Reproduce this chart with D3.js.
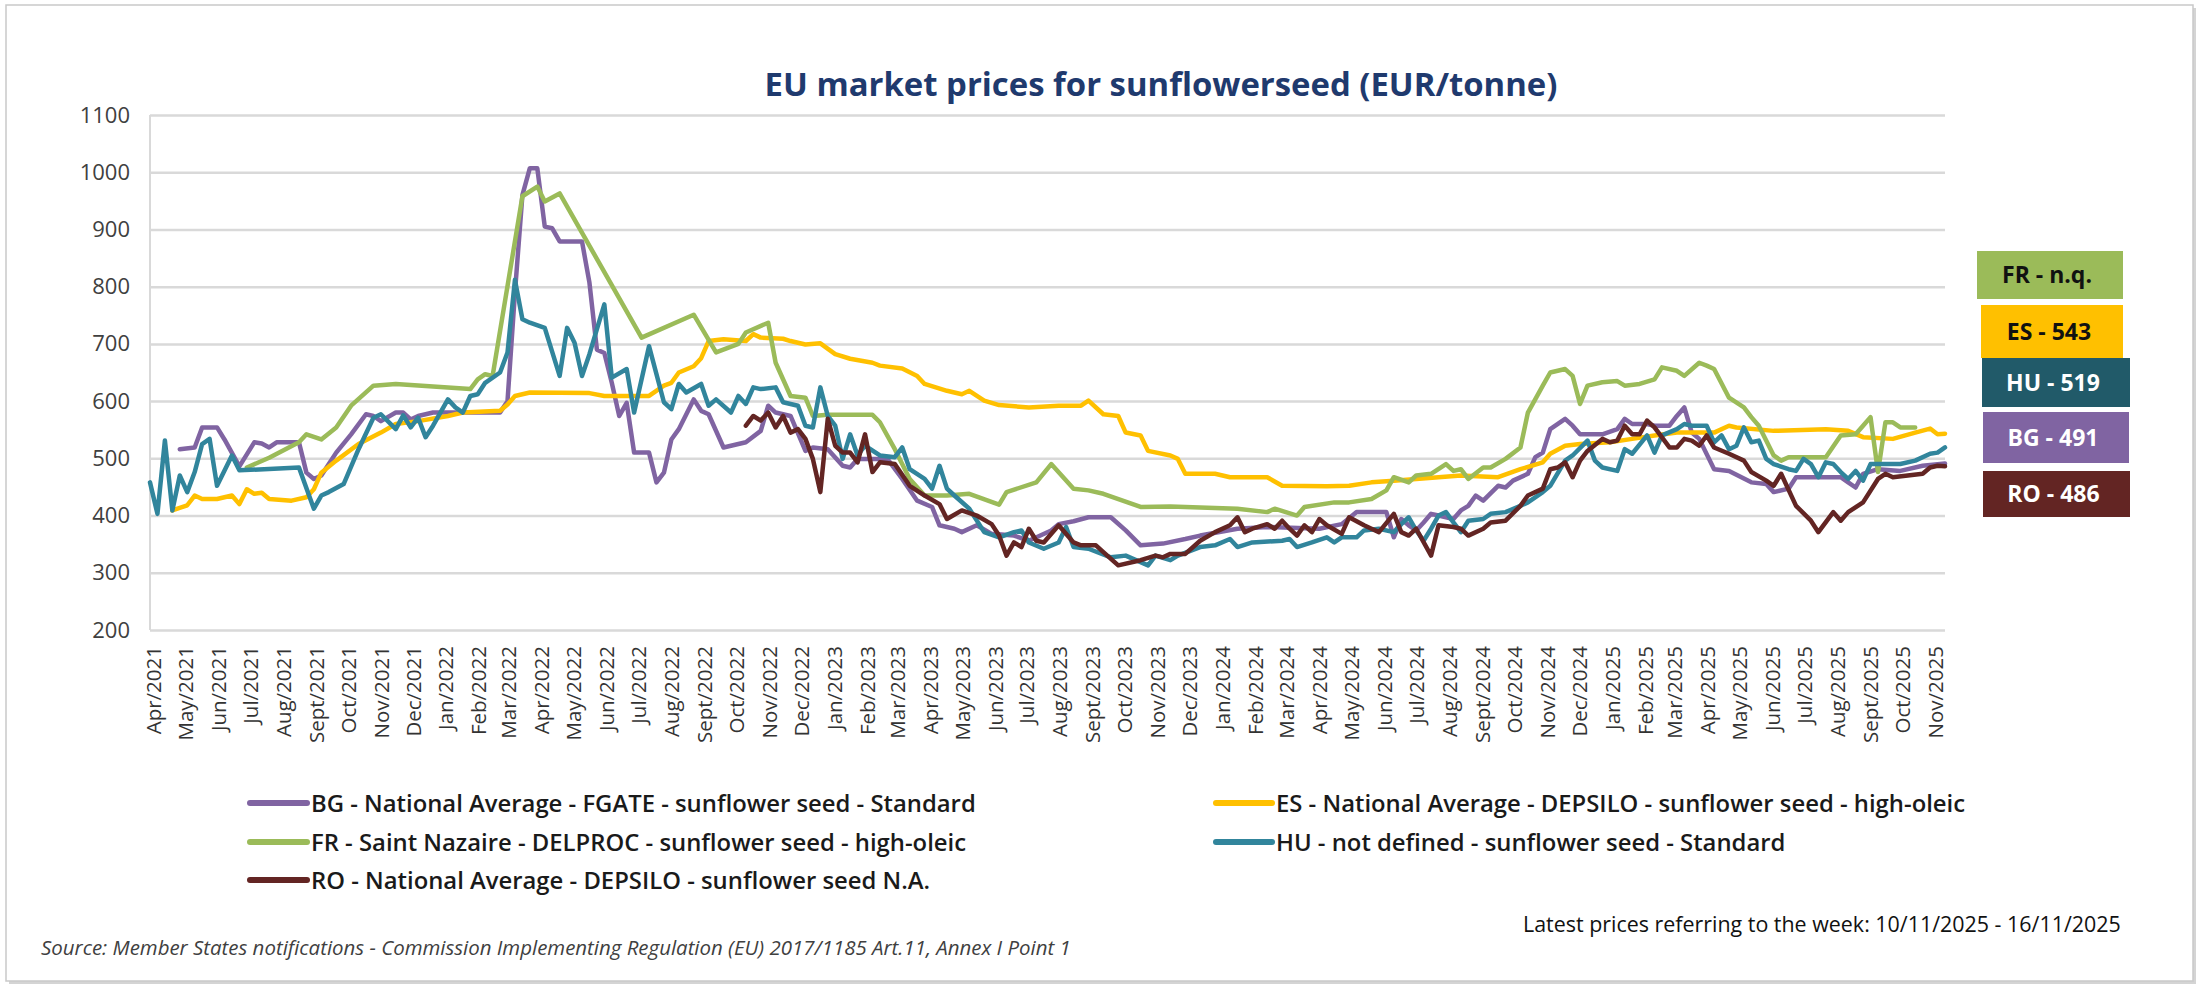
<!DOCTYPE html>
<html><head><meta charset="utf-8">
<script src="https://cdn.jsdelivr.net/npm/d3@7/dist/d3.min.js"></script>
<style>body{margin:0;background:#fff}svg{display:block}</style>
</head><body>
<svg id="chart" width="2201" height="986"></svg>
<script>
// ---------- data ----------
const titleText = "EU market prices for sunflowerseed (EUR/tonne)";
const startWeek = "2021-03-29";   // week 0 of the weekly series
const lastWeek = 241;              // week of 10/11/2025
const monthNames = ["Jan","Feb","Mar","Apr","May","Jun","Jul","Aug","Sept","Oct","Nov","Dec"];
const firstTickMonth = [2021, 3];  // Apr 2021
const tickCount = 56;              // Apr/2021 .. Nov/2025
const yTicks = [200,300,400,500,600,700,800,900,1000,1100];

const seriesKeys = ["BG","ES","FR","HU","RO"];
const seriesLabels = [
  "BG - National Average - FGATE - sunflower seed - Standard",
  "ES - National Average - DEPSILO - sunflower seed - high-oleic",
  "FR - Saint Nazaire - DELPROC - sunflower seed - high-oleic",
  "HU - not defined - sunflower seed - Standard",
  "RO - National Average - DEPSILO - sunflower seed N.A."
];
// [week index, EUR/tonne]
const BG = [[4,516],[6,519],[7,554],[9,554],[10,533],[12,486],[14,528],[15,526],[16,519],[17,528],[20,528],[21,475],[22,464],[23,470],[25,510],[27,542],[29,577],[30,574],[31,565],[33,580],[34,580],[35,568],[36,574],[38,580],[47,580],[48,600],[49,790],[50,960],[51,1007],[52,1007],[53,905],[54,902],[55,879],[58,879],[59,807],[60,690],[61,684],[62,632],[63,574],[64,597],[65,510],[67,510],[68,458],[69,475],[70,533],[71,551],[73,603],[74,583],[75,577],[77,519],[79,525],[80,528],[82,548],[83,592],[84,580],[86,574],[88,513],[89,519],[91,516],[93,487],[94,484],[95,499],[99,499],[101,464],[103,426],[105,415],[106,383],[108,377],[109,371],[111,383],[113,368],[116,365],[118,356],[121,374],[122,385],[124,390],[126,397],[129,397],[131,374],[133,348],[136,351],[139,359],[141,365],[146,377],[150,380],[157,377],[160,385],[162,406],[164,406],[166,406],[167,362],[168,394],[169,383],[170,374],[171,388],[172,403],[173,400],[175,394],[176,409],[177,417],[178,435],[179,426],[181,452],[182,449],[183,461],[185,473],[186,502],[187,510],[188,551],[190,569],[191,557],[192,542],[195,542],[197,551],[198,569],[199,560],[201,560],[202,557],[204,557],[205,574],[206,589],[207,545],[208,534],[210,481],[212,478],[215,458],[217,455],[218,441],[220,447],[221,467],[223,467],[227,467],[228,458],[229,449],[230,473],[232,481],[235,478],[238,487],[241,491]];
const ES = [[3,409],[5,418],[6,435],[7,429],[9,429],[11,435],[12,420],[13,446],[14,438],[15,440],[16,429],[19,426],[21,432],[22,446],[23,475],[25,496],[28,525],[31,545],[33,560],[36,565],[40,574],[42,580],[47,583],[48,594],[49,609],[51,615],[59,614],[61,609],[67,609],[69,627],[70,632],[71,650],[73,661],[74,675],[75,705],[77,708],[80,705],[81,717],[82,711],[85,709],[86,705],[88,699],[90,701],[92,682],[94,674],[97,667],[98,662],[101,657],[103,644],[104,630],[107,618],[109,612],[110,618],[112,601],[114,593],[118,589],[122,592],[125,592],[126,601],[128,577],[130,574],[131,545],[133,540],[134,513],[137,505],[138,499],[139,473],[143,473],[145,467],[150,467],[152,452],[158,451],[161,452],[164,458],[167,461],[170,464],[173,467],[176,470],[181,467],[184,481],[187,493],[188,508],[190,522],[192,525],[196,528],[199,534],[202,540],[205,545],[210,545],[212,557],[213,554],[218,548],[225,551],[228,548],[230,537],[234,534],[237,545],[239,552],[240,542],[241,543]];
const FR = [[13,484],[16,501],[20,528],[21,542],[23,533],[25,554],[27,592],[30,627],[33,630],[43,621],[44,638],[45,647],[46,644],[50,958],[52,975],[53,949],[55,963],[66,711],[73,751],[76,685],[79,700],[80,720],[83,737],[84,667],[86,609],[88,606],[89,574],[91,576],[97,576],[98,563],[100,516],[102,464],[104,435],[107,435],[110,438],[114,419],[115,441],[119,458],[121,490],[124,447],[126,444],[128,438],[133,415],[137,416],[146,412],[150,406],[151,412],[154,400],[155,415],[159,423],[161,423],[164,429],[166,444],[167,467],[169,458],[170,470],[172,473],[174,490],[175,478],[176,481],[177,464],[179,484],[180,484],[182,499],[184,519],[185,580],[187,627],[188,650],[190,656],[191,644],[192,595],[193,627],[195,633],[197,635],[198,627],[200,630],[202,638],[203,659],[205,653],[206,644],[208,667],[209,662],[210,656],[212,606],[214,589],[215,572],[216,557],[218,505],[219,496],[220,502],[225,502],[227,540],[229,542],[230,557],[231,572],[232,476],[233,563],[234,563],[235,554],[237,554]];
const HU = [[0,458],[1,403],[2,531],[3,409],[4,470],[5,441],[6,476],[7,525],[8,534],[9,452],[11,505],[12,479],[20,484],[22,412],[23,435],[24,441],[26,455],[28,516],[30,571],[31,577],[33,551],[34,575],[35,554],[36,571],[37,537],[38,557],[40,603],[41,589],[42,580],[43,609],[44,612],[45,632],[47,650],[48,685],[49,812],[50,743],[51,737],[53,728],[55,644],[56,728],[57,702],[58,644],[59,682],[61,769],[62,641],[64,656],[65,580],[67,696],[69,598],[70,586],[71,630],[72,615],[74,630],[75,592],[76,603],[78,580],[79,609],[80,595],[81,624],[82,621],[84,624],[85,598],[87,592],[88,557],[89,554],[90,624],[91,574],[92,557],[93,499],[94,542],[95,505],[96,522],[98,505],[100,502],[101,519],[102,481],[104,464],[105,447],[106,487],[107,447],[108,435],[110,412],[112,371],[114,362],[116,371],[117,374],[118,353],[120,342],[122,353],[123,380],[124,345],[126,342],[129,327],[131,330],[134,313],[135,330],[137,322],[138,330],[141,345],[143,348],[145,359],[146,345],[148,353],[152,356],[153,359],[154,345],[156,353],[158,362],[159,353],[160,362],[162,362],[163,374],[165,377],[167,371],[168,385],[169,397],[170,374],[171,356],[172,377],[173,400],[174,406],[175,388],[176,371],[177,391],[179,394],[180,403],[182,406],[184,417],[185,423],[187,441],[188,452],[190,496],[191,505],[193,531],[194,496],[195,484],[197,478],[198,516],[199,508],[201,540],[202,510],[203,540],[205,551],[206,560],[207,557],[209,557],[210,528],[211,540],[212,516],[213,522],[214,554],[215,528],[216,531],[217,499],[218,490],[220,481],[221,478],[222,499],[223,490],[224,467],[225,493],[226,490],[227,476],[228,464],[229,478],[230,461],[231,490],[233,490],[235,490],[237,496],[239,508],[240,510],[241,519]];
const RO = [[80,557],[81,574],[82,566],[83,580],[84,554],[85,574],[86,545],[87,551],[88,534],[89,499],[90,441],[91,569],[92,522],[93,510],[94,510],[95,493],[96,542],[97,476],[98,493],[100,490],[102,452],[104,435],[106,420],[107,394],[109,409],[111,400],[113,385],[114,365],[115,330],[116,353],[117,345],[118,377],[119,356],[120,353],[122,383],[124,353],[125,348],[127,348],[128,336],[130,313],[133,322],[135,330],[136,327],[137,333],[139,333],[141,356],[143,371],[145,383],[146,397],[147,371],[148,377],[150,385],[151,377],[152,391],[153,377],[154,365],[155,383],[156,371],[157,394],[158,383],[160,368],[161,397],[163,383],[164,377],[165,371],[167,403],[168,371],[169,365],[170,377],[172,330],[173,383],[175,380],[176,377],[177,365],[179,377],[180,388],[182,391],[184,417],[185,435],[187,447],[188,481],[189,484],[190,493],[191,467],[192,496],[193,513],[195,534],[196,528],[197,531],[198,557],[199,542],[200,542],[201,566],[202,554],[204,519],[205,519],[206,534],[207,531],[208,522],[209,540],[210,519],[212,508],[214,496],[215,476],[217,461],[218,452],[219,473],[221,417],[223,391],[224,371],[226,406],[227,391],[228,406],[230,423],[232,464],[233,473],[234,467],[236,470],[238,473],[239,484],[240,487],[241,486]];

const badgeTexts = ["FR - n.q.","ES - 543","HU - 519","BG - 491","RO - 486"];
const sourceText = "Source: Member States notifications - Commission Implementing Regulation (EU) 2017/1185 Art.11, Annex I Point 1";
const latestText = "Latest prices referring to the week: 10/11/2025 - 16/11/2025";

// ---------- styles / layout ----------
const lineColors = {BG:"#8064A2", ES:"#FFC000", FR:"#9BBB59", HU:"#31859C", RO:"#632523"};
const badgeStyle = [
  {fill:"#9BBB59", text:"#111", x:1977, y:251, w:146, h:48},
  {fill:"#FFC000", text:"#111", x:1981, y:305, w:142, h:53},
  {fill:"#215A69", text:"#fff", x:1982, y:358, w:148, h:49},
  {fill:"#8064A2", text:"#fff", x:1983, y:412, w:146, h:51},
  {fill:"#632523", text:"#fff", x:1983, y:471, w:147, h:46}
];
const plot = {left:150, right:1945, top:115, bottom:630};
const uiFont = "'Open Sans', 'Noto Sans', sans-serif";

const svg = d3.select("#chart");
const seriesData = {BG, ES, FR, HU, RO};
const t0 = d3.timeParse("%Y-%m-%d")(startWeek);
const weekDate = w => d3.timeDay.offset(t0, w * 7);

const x = d3.scaleTime().domain([t0, weekDate(lastWeek)]).range([plot.left, plot.right]);
const y = d3.scaleLinear().domain([200, 1100]).range([plot.bottom, plot.top]);

function fitWidth(sel, target) {
  const fs = parseFloat(sel.attr("font-size"));
  const w = sel.node().getComputedTextLength();
  sel.attr("font-size", (fs * target / w).toFixed(2));
}

// frame
svg.append("rect").attr("x", 9).attr("y", 8).attr("width", 2187).attr("height", 976).attr("fill", "#d4d4d4");
svg.append("rect").attr("x", 6).attr("y", 5).attr("width", 2187).attr("height", 976)
  .attr("fill", "#fff").attr("stroke", "#c9c9c9").attr("stroke-width", 1.5);

// title
const title = svg.append("text").attr("x", 1161).attr("y", 96).attr("text-anchor", "middle")
  .attr("font-family", uiFont).attr("font-weight", 700).attr("font-size", 27)
  .attr("fill", "#1F3A6E").text(titleText);
fitWidth(title, 793);

// grid + y axis
const yAxis = d3.axisLeft(y).tickValues(yTicks).tickFormat(d3.format("d"))
  .tickSize(-(plot.right - plot.left)).tickPadding(20);
const gy = svg.append("g").attr("transform", `translate(${plot.left},0)`).call(yAxis);
gy.select(".domain").remove();
gy.selectAll(".tick line").attr("stroke", "#D9D9D9").attr("stroke-width", 2.5);
gy.selectAll(".tick text").attr("font-family", uiFont).attr("font-size", 22).attr("fill", "#404040");
svg.append("line").attr("x1", plot.left).attr("x2", plot.left).attr("y1", plot.top).attr("y2", plot.bottom)
  .attr("stroke", "#D9D9D9").attr("stroke-width", 2);

// x axis
const tickDates = d3.range(tickCount).map(i => new Date(firstTickMonth[0], firstTickMonth[1] + i, 1));
const xAxis = d3.axisBottom(x).tickValues(tickDates).tickSize(0)
  .tickFormat(d => monthNames[d.getMonth()] + "/" + d.getFullYear());
const gx = svg.append("g").attr("transform", `translate(0,${plot.bottom})`).call(xAxis);
gx.select(".domain").remove();
gx.selectAll(".tick text")
  .attr("font-family", uiFont).attr("font-size", 20.5).attr("fill", "#333")
  .attr("text-anchor", "end").attr("transform", "translate(0,16) rotate(-90)")
  .attr("x", 0).attr("y", 0).attr("dy", "0.35em");

// lines
const line = d3.line().x(d => x(weekDate(d[0]))).y(d => y(d[1]));
svg.append("g").selectAll("path").data(seriesKeys).join("path")
  .attr("d", k => line(seriesData[k]))
  .attr("fill", "none").attr("stroke", k => lineColors[k])
  .attr("stroke-width", 4.5).attr("stroke-linejoin", "round").attr("stroke-linecap", "round");

// badges
const bg = svg.append("g").selectAll("g").data(badgeTexts).join("g");
bg.append("rect").attr("x", (d,i) => badgeStyle[i].x).attr("y", (d,i) => badgeStyle[i].y)
  .attr("width", (d,i) => badgeStyle[i].w).attr("height", (d,i) => badgeStyle[i].h)
  .attr("fill", (d,i) => badgeStyle[i].fill);
bg.append("text").attr("x", (d,i) => badgeStyle[i].x + badgeStyle[i].w/2 - 3)
  .attr("y", (d,i) => badgeStyle[i].y + badgeStyle[i].h/2).attr("dy", "0.36em")
  .attr("text-anchor", "middle").attr("font-family", uiFont).attr("font-weight", 700)
  .attr("font-size", 23).attr("fill", (d,i) => badgeStyle[i].text).text(d => d);

// legend
const legendPos = [
  {sx:250, tx:311, cy:803}, {sx:1216, tx:1276, cy:803},
  {sx:250, tx:311, cy:842}, {sx:1216, tx:1276, cy:842},
  {sx:250, tx:311, cy:880}
];
const lg = svg.append("g").selectAll("g").data(seriesKeys).join("g");
lg.append("line").attr("x1", (d,i) => legendPos[i].sx).attr("x2", (d,i) => legendPos[i].tx - 4)
  .attr("y1", (d,i) => legendPos[i].cy).attr("y2", (d,i) => legendPos[i].cy)
  .attr("stroke", d => lineColors[d]).attr("stroke-width", 6).attr("stroke-linecap", "round");
const legTexts = lg.append("text").attr("x", (d,i) => legendPos[i].tx).attr("y", (d,i) => legendPos[i].cy)
  .attr("dy", "0.36em").attr("font-family", uiFont).attr("font-weight", 600).attr("font-size", 20)
  .attr("fill", "#1a1a1a").text((d,i) => seriesLabels[i]);
{
  const first = legTexts.filter((d,i) => i === 0);
  fitWidth(first, 665);
  legTexts.attr("font-size", first.attr("font-size"));
}

// footer texts
const src = svg.append("text").attr("x", 41).attr("y", 948).attr("dy", "0.36em")
  .attr("font-family", uiFont).attr("font-style", "italic").attr("font-size", 18)
  .attr("fill", "#404040").text(sourceText);
fitWidth(src, 1030);
const lat = svg.append("text").attr("x", 1523).attr("y", 924).attr("dy", "0.36em")
  .attr("font-family", uiFont).attr("font-size", 19).attr("fill", "#111").text(latestText);
fitWidth(lat, 598);
</script>
</body></html>
